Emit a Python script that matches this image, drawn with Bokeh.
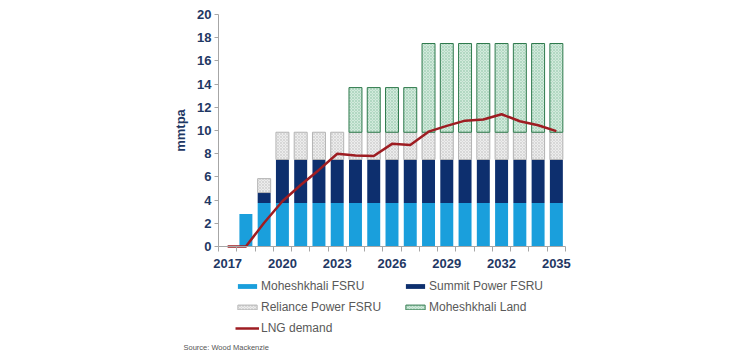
import numpy as np
from bokeh.plotting import figure
from bokeh.models import (Range1d, FixedTicker, Legend, LegendItem, Label, ColumnDataSource)
from bokeh.embed import file_html
from bokeh.resources import INLINE

years = list(range(2017, 2036))
moheshkhali_fsru = [0, 2.8, 3.75] + [3.75] * 16
summit_power = [0, 0, 0.9] + [3.75] * 16
reliance_power = [0, 0, 1.2] + [2.35] * 16
moheshkhali_land = [0] * 7 + [3.85] * 4 + [7.65] * 8
lng_demand = [0, 0, 2.05, 3.9, 5.3, 6.6, 8.0, 7.85, 7.8, 8.85, 8.75,
              9.9, 10.4, 10.85, 10.95, 11.4, 10.8, 10.45, 9.95]
tick_years = [2017, 2020, 2023, 2026, 2029, 2032, 2035]
tick_labels = ["2017", "2020", "2023", "2026", "2029", "2032", "2035"]
y_ticks = list(range(0, 21, 2))

FONT = "Liberation Sans"
NAVY_TXT = "#1f3864"

series = [moheshkhali_fsru, summit_power, reliance_power, moheshkhali_land]
bottom = np.zeros(len(years))
sources = []
for vals in series:
    v = np.array(vals, dtype=float)
    top = bottom + v
    keep = v > 0
    sources.append(ColumnDataSource(dict(x=np.array(years)[keep],
                                         bottom=bottom[keep], top=top[keep])))
    bottom = top

# layout geometry (pixels)
PX_X = 18.263          # px per year
PX_Y = 11.6            # px per mmtpa
FRAME_LEFT = 60
FRAME_TOP = 5
FRAME_RIGHT_BORDER = 150
X0 = years[0] - 0.5
X1 = years[-1] + 0.5
x_start = X0 - (218 - FRAME_LEFT) / PX_X
x_end = X1 + (750 - FRAME_RIGHT_BORDER - 565) / PX_X
y_start = -(354 - 246) / PX_Y
y_end = 20 + (14 - FRAME_TOP) / PX_Y

p = figure(width=750, height=354, output_backend="svg", toolbar_location=None,
           x_axis_location="above",
           x_range=Range1d(x_start, x_end), y_range=Range1d(y_start, y_end),
           min_border_left=FRAME_LEFT, min_border_right=FRAME_RIGHT_BORDER,
           min_border_top=FRAME_TOP, min_border_bottom=0)
p.outline_line_color = None
p.grid.visible = False
p.background_fill_color = "white"
p.border_fill_color = "white"

W = 0.71
rm = p.vbar(x="x", bottom="bottom", top="top", source=sources[0], width=W,
            fill_color="#1a9fdc", line_color=None)
rs = p.vbar(x="x", bottom="bottom", top="top", source=sources[1], width=W,
            fill_color="#0d2f6e", line_color=None)
rr = p.vbar(x="x", bottom="bottom", top="top", source=sources[2], width=W,
            fill_color="#ededed", line_color="#b3b3b3", line_width=1,
            hatch_pattern="diagonal_cross", hatch_color="#c8c8c8", hatch_scale=3,
            hatch_weight=0.6)
rl = p.vbar(x="x", bottom="bottom", top="top", source=sources[3], width=W,
            fill_color="#d2eadc", line_color="#2f7a4d", line_width=1,
            hatch_pattern="diagonal_cross", hatch_color="#9ccbb0", hatch_scale=3,
            hatch_weight=0.6)
rd = p.line(x=years, y=lng_demand, line_color="#9e1d22", line_width=2.5)

# y axis (drawn at the left edge of the bar area)
ya = p.yaxis[0]
ya.fixed_location = X0
ya.bounds = (0, 20)
ya.ticker = FixedTicker(ticks=y_ticks, minor_ticks=[])
ya.axis_label = "mmtpa"
ya.axis_label_text_font = FONT
ya.axis_label_text_font_style = "bold"
ya.axis_label_text_font_size = "13px"
ya.axis_label_text_color = NAVY_TXT
ya.axis_label_standoff = 6
ya.major_label_text_font = FONT
ya.major_label_text_font_style = "bold"
ya.major_label_text_font_size = "13px"
ya.major_label_text_color = NAVY_TXT
ya.major_label_standoff = 3
ya.axis_line_color = "#a6a6a6"
ya.major_tick_line_color = "#a6a6a6"
ya.major_tick_out = 4
ya.major_tick_in = 0

# x axis (drawn at y = 0, labels pushed below the line)
xa = p.xaxis[0]
xa.fixed_location = 0
xa.bounds = (X0, X1)
xa.ticker = FixedTicker(ticks=tick_years,
                        minor_ticks=[y - 0.5 for y in years] + [X1])
xa.major_label_overrides = {t: lab for t, lab in zip(tick_years, tick_labels)}
xa.major_label_text_font = FONT
xa.major_label_text_font_style = "bold"
xa.major_label_text_font_size = "13px"
xa.major_label_text_color = NAVY_TXT
xa.major_label_standoff = -21
xa.axis_line_color = "#a6a6a6"
xa.major_tick_out = 0
xa.major_tick_in = 0
xa.minor_tick_line_color = "#a6a6a6"
xa.minor_tick_out = 0
xa.minor_tick_in = 5

legend = Legend(items=[
    LegendItem(label="Moheshkhali FSRU", renderers=[rm]),
    LegendItem(label="Summit Power FSRU", renderers=[rs]),
    LegendItem(label="Reliance Power FSRU", renderers=[rr]),
    LegendItem(label="Moheshkhali Land", renderers=[rl]),
    LegendItem(label="LNG demand", renderers=[rd]),
], location=(175, 19), orientation="horizontal", ncols=2,
    glyph_width=24, glyph_height=6, label_standoff=2, label_width=135,
    label_height=13, spacing=7, padding=0, margin=0,
    label_text_font=FONT, label_text_font_size="12px", label_text_color="#595959",
    border_line_color=None, background_fill_alpha=0)
p.add_layout(legend)

src = Label(x=X0 - (218 - 183) / PX_X, y=-(347 - 246) / PX_Y,
            text="Source: Wood Mackenzie", text_font=FONT, text_font_size="7.5px",
            text_color="#555555", text_baseline="middle", text_align="left")
p.add_layout(src)

open("out.html", "w").write(file_html(p, INLINE))
